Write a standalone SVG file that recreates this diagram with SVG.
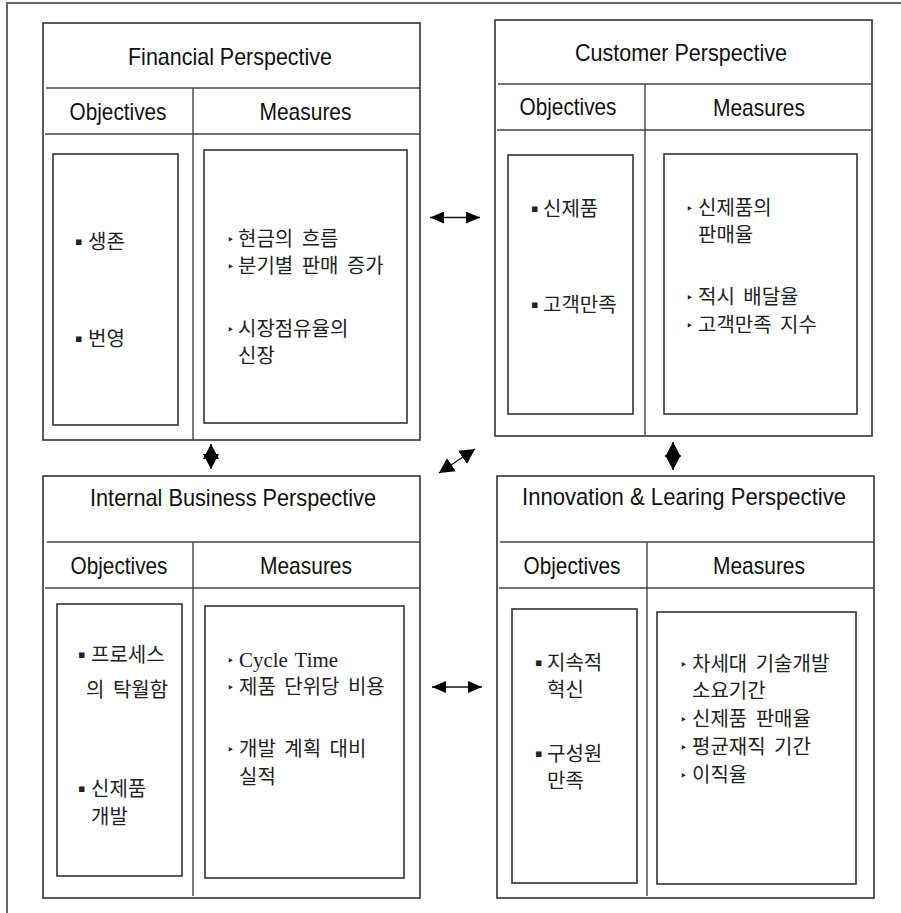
<svg xmlns="http://www.w3.org/2000/svg" width="901" height="913" viewBox="0 0 901 913">
  <style>
    .frame { fill: none; stroke: #666; stroke-width: 2; }
    .panel { fill: #fff; stroke: #333; stroke-width: 1.6; }
    .rule { stroke: #444; stroke-width: 1.4; }
    .box { fill: none; stroke: #333; stroke-width: 1.6; }
    .ttl { font-family: "Liberation Sans", "Noto Sans", sans-serif; font-size: 24px; text-anchor: middle; fill: #111; }
    .ko { font-family: "Noto Sans CJK KR", "Noto Sans", sans-serif; font-size: 20px; fill: #222; word-spacing: 4px; }
    .en { font-family: "Liberation Serif", "DejaVu Serif", serif; font-size: 21px; word-spacing: 2px; }
    .b { font-family: "DejaVu Sans", sans-serif; font-size: 11px; fill: #222; }
    .t { font-family: "DejaVu Sans", sans-serif; font-size: 12px; fill: #222; }
    .link { stroke: #111; stroke-width: 1.4; fill: none; }
  </style>
  <defs>
    <marker id="ah" viewBox="0 0 14 12" refX="14" refY="6" markerWidth="14" markerHeight="12" markerUnits="userSpaceOnUse" orient="auto-start-reverse">
      <path d="M0,0 L14,6 L0,12 Z" fill="#000"/>
    </marker>
    <marker id="ahL" viewBox="0 0 15 16" refX="15" refY="8" markerWidth="15" markerHeight="16" markerUnits="userSpaceOnUse" orient="auto-start-reverse">
      <path d="M0,0 L15,8 L0,16 Z" fill="#000"/>
    </marker>
  </defs>

  <rect width="901" height="913" fill="#fff"/>
  <polyline class="frame" points="7,913 7,3 901,3"/>

  <!-- Financial Perspective -->
  <g id="financial">
    <rect class="panel" x="43" y="23" width="377" height="417"/>
    <line class="rule" x1="46" y1="88" x2="420" y2="88"/>
    <line class="rule" x1="45" y1="134" x2="420" y2="134"/>
    <line class="rule" x1="193" y1="88" x2="193" y2="440"/>
    <text class="ttl" x="230" y="65" textLength="204" lengthAdjust="spacingAndGlyphs">Financial Perspective</text>
    <text class="ttl" x="118" y="120" textLength="97" lengthAdjust="spacingAndGlyphs">Objectives</text>
    <text class="ttl" x="305.5" y="120" textLength="92" lengthAdjust="spacingAndGlyphs">Measures</text>
    <rect class="box" x="53" y="154" width="125" height="271"/>
    <rect class="box" x="204" y="150" width="203" height="273"/>
    <text class="ko" y="249"><tspan class="b" x="75" dy="-4">▪</tspan><tspan x="88" dy="4">생존</tspan></text>
    <text class="ko" y="346"><tspan class="b" x="75" dy="-4">▪</tspan><tspan x="88" dy="4">번영</tspan></text>
    <text class="ko" y="246"><tspan class="t" x="227" dy="-2">‣</tspan><tspan x="238" dy="2">현금의 흐름</tspan></text>
    <text class="ko" y="273"><tspan class="t" x="227" dy="-2">‣</tspan><tspan x="238" dy="2">분기별 판매 증가</tspan></text>
    <text class="ko" y="336"><tspan class="t" x="227" dy="-2">‣</tspan><tspan x="238" dy="2">시장점유율의</tspan><tspan x="238" dy="27">신장</tspan></text>
  </g>

  <!-- Customer Perspective -->
  <g id="customer">
    <rect class="panel" x="495" y="20" width="377" height="416"/>
    <line class="rule" x1="498" y1="84" x2="872" y2="84"/>
    <line class="rule" x1="497" y1="130" x2="872" y2="130"/>
    <line class="rule" x1="645" y1="84" x2="645" y2="435"/>
    <text class="ttl" x="681" y="61" textLength="212" lengthAdjust="spacingAndGlyphs">Customer Perspective</text>
    <text class="ttl" x="568" y="115" textLength="97" lengthAdjust="spacingAndGlyphs">Objectives</text>
    <text class="ttl" x="759" y="116" textLength="92" lengthAdjust="spacingAndGlyphs">Measures</text>
    <rect class="box" x="508" y="155" width="125" height="259"/>
    <rect class="box" x="664" y="154" width="193" height="260"/>
    <text class="ko" y="216"><tspan class="b" x="531" dy="-4">▪</tspan><tspan x="543" dy="4">신제품</tspan></text>
    <text class="ko" y="312"><tspan class="b" x="531" dy="-4">▪</tspan><tspan x="543" dy="4">고객만족</tspan></text>
    <text class="ko" y="215"><tspan class="t" x="686" dy="-2">‣</tspan><tspan x="698" dy="2">신제품의</tspan><tspan x="698" dy="27">판매율</tspan></text>
    <text class="ko" y="304"><tspan class="t" x="686" dy="-2">‣</tspan><tspan x="698" dy="2">적시 배달율</tspan></text>
    <text class="ko" y="332"><tspan class="t" x="686" dy="-2">‣</tspan><tspan x="698" dy="2">고객만족 지수</tspan></text>
  </g>

  <!-- Internal Business Perspective -->
  <g id="internal">
    <rect class="panel" x="43" y="476" width="377" height="422"/>
    <line class="rule" x1="47" y1="542" x2="420" y2="542"/>
    <line class="rule" x1="45" y1="588" x2="420" y2="588"/>
    <line class="rule" x1="193" y1="542" x2="193" y2="896"/>
    <text class="ttl" x="233" y="506" textLength="286" lengthAdjust="spacingAndGlyphs">Internal Business Perspective</text>
    <text class="ttl" x="119" y="574" textLength="97" lengthAdjust="spacingAndGlyphs">Objectives</text>
    <text class="ttl" x="306" y="574" textLength="92" lengthAdjust="spacingAndGlyphs">Measures</text>
    <rect class="box" x="57" y="604" width="125" height="272"/>
    <rect class="box" x="205" y="606" width="199" height="272"/>
    <text class="ko" y="662"><tspan class="b" x="78" dy="-4">▪</tspan><tspan x="91" dy="4">프로세스</tspan><tspan x="86" dy="35">의 탁월함</tspan></text>
    <text class="ko" y="796"><tspan class="b" x="78" dy="-4">▪</tspan><tspan x="91" dy="4">신제품</tspan><tspan x="91" dy="28">개발</tspan></text>
    <text class="ko" y="667"><tspan class="t" x="227" dy="-2">‣</tspan><tspan class="en" x="239" dy="2" textLength="99" lengthAdjust="spacingAndGlyphs">Cycle Time</tspan></text>
    <text class="ko" y="694"><tspan class="t" x="227" dy="-2">‣</tspan><tspan x="239" dy="2">제품 단위당 비용</tspan></text>
    <text class="ko" y="756"><tspan class="t" x="227" dy="-2">‣</tspan><tspan x="239" dy="2">개발 계획 대비</tspan><tspan x="239" dy="28">실적</tspan></text>
  </g>

  <!-- Innovation & Learing Perspective -->
  <g id="innovation">
    <rect class="panel" x="497" y="476" width="377" height="422"/>
    <line class="rule" x1="500" y1="542" x2="874" y2="542"/>
    <line class="rule" x1="499" y1="588" x2="874" y2="588"/>
    <line class="rule" x1="647" y1="542" x2="647" y2="896"/>
    <text class="ttl" x="684" y="505" textLength="324" lengthAdjust="spacingAndGlyphs">Innovation &amp; Learing Perspective</text>
    <text class="ttl" x="572" y="574" textLength="97" lengthAdjust="spacingAndGlyphs">Objectives</text>
    <text class="ttl" x="759" y="574" textLength="92" lengthAdjust="spacingAndGlyphs">Measures</text>
    <rect class="box" x="512" y="609" width="125" height="274"/>
    <rect class="box" x="657" y="612" width="199" height="272"/>
    <text class="ko" y="670"><tspan class="b" x="535" dy="-4">▪</tspan><tspan x="547" dy="4">지속적</tspan><tspan x="547" dy="27">혁신</tspan></text>
    <text class="ko" y="761"><tspan class="b" x="535" dy="-4">▪</tspan><tspan x="547" dy="4">구성원</tspan><tspan x="547" dy="27">만족</tspan></text>
    <text class="ko" y="671"><tspan class="t" x="680" dy="-2">‣</tspan><tspan x="692" dy="2">차세대 기술개발</tspan><tspan x="692" dy="27">소요기간</tspan></text>
    <text class="ko" y="726"><tspan class="t" x="680" dy="-2">‣</tspan><tspan x="692" dy="2">신제품 판매율</tspan></text>
    <text class="ko" y="754"><tspan class="t" x="680" dy="-2">‣</tspan><tspan x="692" dy="2">평균재직 기간</tspan></text>
    <text class="ko" y="782"><tspan class="t" x="680" dy="-2">‣</tspan><tspan x="692" dy="2">이직율</tspan></text>
  </g>

  <!-- two-way links between the perspectives -->
  <g id="connectors">
    <line class="link" x1="430" y1="217.5" x2="480" y2="217.5" marker-start="url(#ah)" marker-end="url(#ah)"/>
    <line class="link" x1="432" y1="687" x2="482" y2="687" marker-start="url(#ah)" marker-end="url(#ah)"/>
    <line class="link" x1="211" y1="444" x2="211" y2="469" marker-start="url(#ahL)" marker-end="url(#ahL)"/>
    <line class="link" x1="673" y1="442" x2="673" y2="470" marker-start="url(#ahL)" marker-end="url(#ahL)"/>
    <line class="link" x1="439" y1="473" x2="475" y2="449" marker-start="url(#ahL)" marker-end="url(#ahL)"/>
  </g>
</svg>
